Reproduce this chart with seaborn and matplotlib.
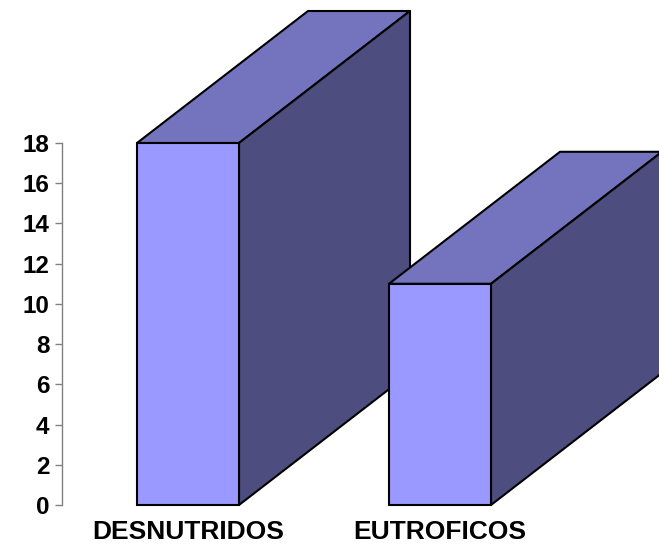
import matplotlib
matplotlib.use("Agg")
import matplotlib.pyplot as plt
import numpy as np
import pandas as pd
import seaborn as sns
from matplotlib.patches import Polygon

# data
categories = ["DESNUTRIDOS", "EUTROFICOS"]
values = [18, 11]
y_ticks = [0, 2, 4, 6, 8, 10, 12, 14, 16, 18]

FRONT = "#9999FF"
TOP = "#7474BE"
SIDE = "#4D4D80"

sns.set_theme(style="white")
plt.rcParams["font.family"] = ["Liberation Sans", "DejaVu Sans"]
plt.rcParams["text.color"] = "black"
plt.rcParams["xtick.color"] = "black"
plt.rcParams["ytick.color"] = "black"

W, H = 659, 548
fig = plt.figure(figsize=(W / 100, H / 100), dpi=100)
x0, x1 = 62, 659
y0, y1 = 505, 143
ax = fig.add_axes([x0 / W, (H - y0) / H, (x1 - x0) / W, (y0 - y1) / H])

df = pd.DataFrame({"cat": categories, "val": values})
sns.barplot(data=df, x="cat", y="val", color=FRONT, saturation=1,
            width=102 / 252, edgecolor="black", linewidth=1.5, ax=ax)

px_per_x = 252.0
px_per_y = (y0 - y1) / 18.0
ax.set_xlim(-0.5, -0.5 + (x1 - x0) / px_per_x)
ax.set_ylim(0, 18)

# depth offsets in data units
dx = 171 / px_per_x
dy = 132 / px_per_y

for i, p in enumerate(ax.patches):
    bx, by = p.get_x(), p.get_y()
    bw, bh = p.get_width(), p.get_height()
    z = 2 + i * 3
    top = Polygon([(bx, by + bh), (bx + dx, by + bh + dy),
                   (bx + bw + dx, by + bh + dy), (bx + bw, by + bh)],
                  closed=True, facecolor=TOP, edgecolor="black", lw=1.5,
                  clip_on=False, zorder=z, joinstyle="round")
    side = Polygon([(bx + bw, by), (bx + bw, by + bh),
                    (bx + bw + dx, by + bh + dy), (bx + bw + dx, by + dy)],
                   closed=True, facecolor=SIDE, edgecolor="black", lw=1.5,
                   clip_on=False, zorder=z, joinstyle="round")
    ax.add_patch(top)
    ax.add_patch(side)
    p.set_zorder(z + 1)
    p.set_clip_on(False)

ax.set_xlabel("")
ax.set_ylabel("")
ax.set_yticks(y_ticks)
ax.set_yticklabels([str(t) for t in y_ticks], fontsize=17.5,
                   fontweight="bold", color="black")
ax.set_xticks(range(len(categories)))
ax.set_xticklabels(categories, fontsize=19, fontweight="bold", color="black")
ax.tick_params(axis="y", left=True, length=5, width=1, color="#808080", pad=4)
ax.tick_params(axis="x", bottom=False, pad=5)

for s in ["top", "right", "bottom"]:
    ax.spines[s].set_visible(False)
ax.spines["left"].set_color("#808080")
ax.spines["left"].set_linewidth(1)
ax.grid(False)

fig.savefig("out.png", dpi=100)
